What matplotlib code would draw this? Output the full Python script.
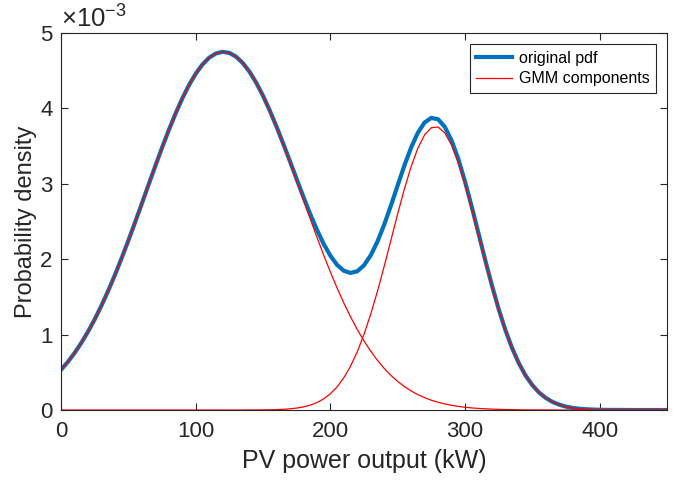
import matplotlib.pyplot as plt

plt.rcParams['font.family'] = ['Liberation Sans', 'DejaVu Sans']
plt.rcParams['mathtext.fontset'] = 'custom'
plt.rcParams['mathtext.rm'] = 'Liberation Sans'

# === DATA (density in units of 1e-3) ===
power_kw = list(range(0, 455, 5))

gmm_comp1 = [0.533, 0.636, 0.754, 0.888, 1.037, 1.202, 1.383, 1.579, 1.789, 2.012,
             2.246, 2.488, 2.736, 2.986, 3.234, 3.477, 3.710, 3.928, 4.129, 4.307,
             4.459, 4.581, 4.672, 4.728, 4.750, 4.736, 4.686, 4.602, 4.485, 4.339,
             4.166, 3.970, 3.755, 3.525, 3.284, 3.036, 2.786, 2.538, 2.294, 2.058,
             1.832, 1.619, 1.420, 1.237, 1.068, 0.916, 0.780, 0.659, 0.552, 0.459,
             0.379, 0.311, 0.253, 0.204, 0.164, 0.130, 0.103, 0.081, 0.063, 0.048,
             0.037, 0.028, 0.021, 0.016, 0.012, 0.009, 0.006, 0.005, 0.003, 0.002,
             0.002, 0.001, 0.001, 0.001, 0.000, 0.000, 0.000, 0.000, 0.000, 0.000,
             0.000, 0.000, 0.000, 0.000, 0.000, 0.000, 0.000, 0.000, 0.000, 0.000,
             0.000]

gmm_comp2 = [0.000, 0.000, 0.000, 0.000, 0.000, 0.000, 0.000, 0.000, 0.000, 0.000,
             0.000, 0.000, 0.000, 0.000, 0.000, 0.000, 0.000, 0.000, 0.000, 0.000,
             0.000, 0.000, 0.000, 0.000, 0.000, 0.000, 0.000, 0.000, 0.001, 0.001,
             0.002, 0.003, 0.005, 0.009, 0.016, 0.026, 0.041, 0.064, 0.098, 0.147,
             0.215, 0.306, 0.427, 0.581, 0.772, 1.003, 1.272, 1.575, 1.906, 2.253,
             2.600, 2.932, 3.228, 3.473, 3.649, 3.744, 3.753, 3.674, 3.514, 3.282,
             2.994, 2.668, 2.322, 1.975, 1.640, 1.330, 1.054, 0.815, 0.616, 0.455,
             0.328, 0.231, 0.159, 0.107, 0.070, 0.045, 0.028, 0.017, 0.010, 0.006,
             0.003, 0.002, 0.001, 0.001, 0.000, 0.000, 0.000, 0.000, 0.000, 0.000,
             0.000]

original_pdf = [0.533, 0.636, 0.754, 0.888, 1.037, 1.202, 1.383, 1.579, 1.789, 2.012,
                2.246, 2.488, 2.736, 2.986, 3.234, 3.477, 3.710, 3.928, 4.129, 4.307,
                4.459, 4.581, 4.672, 4.728, 4.750, 4.736, 4.686, 4.602, 4.486, 4.340,
                4.168, 3.973, 3.760, 3.534, 3.300, 3.062, 2.827, 2.602, 2.392, 2.205,
                2.047, 1.925, 1.847, 1.818, 1.840, 1.919, 2.052, 2.234, 2.458, 2.712,
                2.979, 3.243, 3.481, 3.677, 3.813, 3.874, 3.856, 3.755, 3.576, 3.330,
                3.031, 2.696, 2.344, 1.990, 1.652, 1.339, 1.060, 0.820, 0.620, 0.457,
                0.330, 0.232, 0.160, 0.107, 0.071, 0.045, 0.028, 0.017, 0.010, 0.006,
                0.003, 0.002, 0.001, 0.001, 0.000, 0.000, 0.000, 0.000, 0.000, 0.000,
                0.000]

x_ticks = [0, 100, 200, 300, 400]
y_ticks = [0, 1, 2, 3, 4, 5]

# === PLOT ===
axis_color = (0.15, 0.15, 0.15)
fig = plt.figure(figsize=(6.76, 4.83), dpi=100)
ax = fig.add_axes([0.0902, 0.1511, 0.8965, 0.7806])

ax.plot(power_kw, original_pdf, color=(0, 0.447, 0.741), lw=3.0, label='original pdf')
ax.plot(power_kw, gmm_comp1, color='red', lw=0.9, label='GMM components')
ax.plot(power_kw, gmm_comp2, color='red', lw=0.9)

ax.set_xlim(0, 450)
ax.set_ylim(0, 5)
ax.set_xticks(x_ticks)
ax.set_yticks(y_ticks)
ax.tick_params(direction='in', length=5, width=0.8, top=True, right=True,
               labelsize=16, colors=axis_color)
ax.tick_params(axis='x', pad=8)
ax.tick_params(axis='y', pad=6)
for s in ax.spines.values():
    s.set_color(axis_color)
    s.set_linewidth(0.8)

ax.set_xlabel('PV power output (kW)', fontsize=18, color=axis_color, labelpad=5)
ax.set_ylabel('Probability density', fontsize=17, color=axis_color, labelpad=2)
ax.text(0.0, 1.003, r'$\times10^{-3}$', transform=ax.transAxes, fontsize=18.5,
        color=axis_color, ha='left', va='bottom')

leg = ax.legend(loc='upper right', fontsize=11.5, fancybox=False, framealpha=1,
                edgecolor=axis_color, handlelength=2.2, borderpad=0.4,
                labelspacing=0.35, handletextpad=0.45, borderaxespad=0.7)
leg.get_frame().set_linewidth(0.8)

fig.savefig('out.png', dpi=100)
